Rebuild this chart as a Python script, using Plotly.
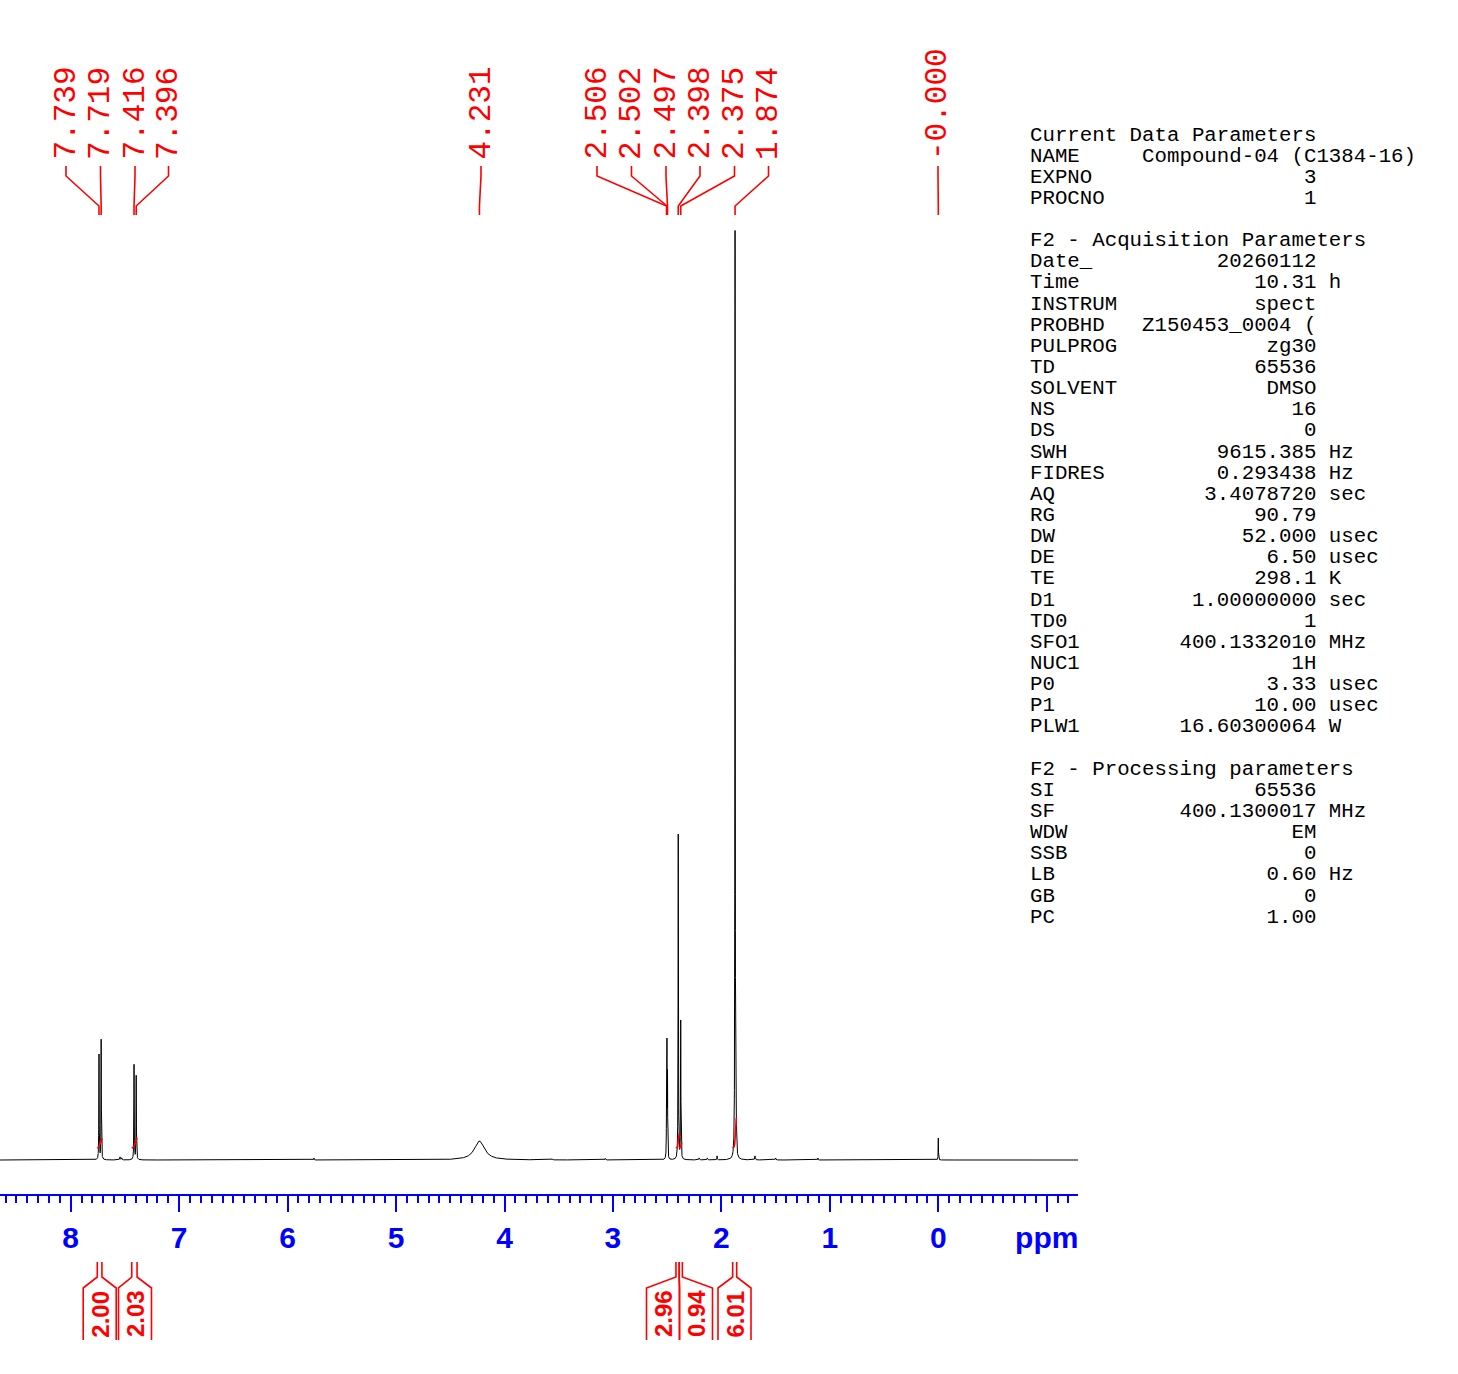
import numpy as np
import plotly.graph_objects as go

# ---------------- data ----------------
peak_ppm = [7.739, 7.719, 7.416, 7.396, 4.231, 2.506, 2.502, 2.497, 2.398, 2.375, 1.874, 1.862, 0.000]
peak_height = [105, 120, 95, 84, 19, 58, 108, 80, 325, 138, 929, 18, 22]
peak_hwhm = [0.0018, 0.0018, 0.0018, 0.0018, 0.055, 0.0015, 0.0015, 0.0015, 0.0018, 0.0018, 0.0018, 0.002, 0.0015]

small_ppm = [7.545, 7.530, 5.757, 3.560, 3.070, 2.205, 2.130, 2.040, 1.690, 1.500, 1.110]
small_height = [3, 2, 2, 1, 1.5, 2, 2, 4, 4, 2, 2]
small_hwhm = [0.003, 0.003, 0.002, 0.003, 0.003, 0.003, 0.003, 0.002, 0.003, 0.003, 0.002]

label_ppm = [7.739, 7.719, 7.416, 7.396, 4.231, 2.506, 2.502, 2.497, 2.398, 2.375, 1.874, 0.000]
label_text = ["7.739", "7.719", "7.416", "7.396", "4.231", "2.506", "2.502", "2.497",
              "2.398", "2.375", "1.874", "-0.000"]

integral_values = [2.00, 2.03, 2.96, 0.94, 6.01]
integral_text = ["2.00", "2.03", "2.96", "0.94", "6.01"]
integral_from = [7.755, 7.437, 2.419, 2.389, 1.896]
integral_to = [7.712, 7.388, 2.389, 2.360, 1.859]

tick_vals = [8, 7, 6, 5, 4, 3, 2, 1, 0, -1]
tick_text = ["8", "7", "6", "5", "4", "3", "2", "1", "0", "ppm"]

params = [
    ("H", "Current Data Parameters"),
    ("P", "NAME", "Compound-04 (C1384-16)", ""),
    ("P", "EXPNO", "3", ""),
    ("P", "PROCNO", "1", ""),
    ("B",),
    ("H", "F2 - Acquisition Parameters"),
    ("P", "Date_", "20260112", ""),
    ("P", "Time", "10.31", "h"),
    ("P", "INSTRUM", "spect", ""),
    ("P", "PROBHD", "Z150453_0004 (", ""),
    ("P", "PULPROG", "zg30", ""),
    ("P", "TD", "65536", ""),
    ("P", "SOLVENT", "DMSO", ""),
    ("P", "NS", "16", ""),
    ("P", "DS", "0", ""),
    ("P", "SWH", "9615.385", "Hz"),
    ("P", "FIDRES", "0.293438", "Hz"),
    ("P", "AQ", "3.4078720", "sec"),
    ("P", "RG", "90.79", ""),
    ("P", "DW", "52.000", "usec"),
    ("P", "DE", "6.50", "usec"),
    ("P", "TE", "298.1", "K"),
    ("P", "D1", "1.00000000", "sec"),
    ("P", "TD0", "1", ""),
    ("P", "SFO1", "400.1332010", "MHz"),
    ("P", "NUC1", "1H", ""),
    ("P", "P0", "3.33", "usec"),
    ("P", "P1", "10.00", "usec"),
    ("P", "PLW1", "16.60300064", "W"),
    ("B",),
    ("H", "F2 - Processing parameters"),
    ("P", "SI", "65536", ""),
    ("P", "SF", "400.1300017", "MHz"),
    ("P", "WDW", "EM", ""),
    ("P", "SSB", "0", ""),
    ("P", "LB", "0.60", "Hz"),
    ("P", "GB", "0", ""),
    ("P", "PC", "1.00", ""),
]

# ---------------- layout constants ----------------
FIG_W, FIG_H = 1458, 1374
PLOT_L, PLOT_R, PLOT_T, PLOT_B = 0, 1078, 225, 1194
PX_PER_PPM = 108.45
PX_ZERO = 938.3
BASELINE_PX = 1160
RED = "#FF0000"
BLUE = "#0000FF"

def xv(px):
    return (PX_ZERO - px) / PX_PER_PPM

def yp(py):
    return (PLOT_B - py) / (PLOT_B - PLOT_T)

X_RANGE = [xv(PLOT_L), xv(PLOT_R)]
Y_RANGE = [-(PLOT_B - BASELINE_PX), BASELINE_PX - PLOT_T]

LABEL_X_PX = [66, 100.5, 135, 168.5, 481, 597, 631.5, 666, 700, 734.5, 768.5, 938]
INTEGRAL_BOX_CENTER_PX = [99.7, 135, 663, 696, 734.5]
INTEGRAL_BOX_HALF = 16.5
INTEGRAL_OFFSET = 12
INTEGRAL_SCALE = 5

# ---------------- spectrum ----------------
all_ppm = peak_ppm + small_ppm
all_h = peak_height + small_height
all_w = peak_hwhm + small_hwhm
grid = np.arange(X_RANGE[1], X_RANGE[0], 0.0005)
grid = np.unique(np.concatenate([grid, np.array(all_ppm)]))[::-1]
spec = np.zeros_like(grid)
for c, h, w in zip(all_ppm, all_h, all_w):
    spec += h * w**2 / ((grid - c) ** 2 + w**2)

fig = go.Figure()
fig.add_trace(go.Scatter(x=grid, y=spec, mode="lines",
                         line=dict(color="black", width=1), hoverinfo="skip",
                         showlegend=False))

# integral curves
for val, a, b in zip(integral_values, integral_from, integral_to):
    m = (grid <= a) & (grid >= b)
    xs = grid[m]
    ys = spec[m]
    cum = np.concatenate([[0], np.cumsum(0.5 * (ys[1:] + ys[:-1]) * np.abs(np.diff(xs)))])
    cum = cum / cum[-1]
    fig.add_trace(go.Scatter(x=xs, y=INTEGRAL_OFFSET + val * INTEGRAL_SCALE * cum,
                             mode="lines", line=dict(color=RED, width=1.6),
                             hoverinfo="skip", showlegend=False))

shapes = []
annotations = []

# peak labels and connectors
for lp, lt, lx in zip(label_ppm, label_text, LABEL_X_PX):
    annotations.append(dict(
        x=xv(lx), y=yp(161), xref="x", yref="paper", text=lt, showarrow=False,
        textangle=-90, xanchor="center", yanchor="bottom", borderpad=0,
        font=dict(family="Liberation Mono", size=31, color=RED)))
    path = (f"M {xv(lx)},{yp(166)} L {xv(lx)},{yp(176)} "
            f"L {lp},{yp(206)} L {lp},{yp(215)}")
    shapes.append(dict(type="path", path=path, xref="x", yref="paper",
                       line=dict(color=RED, width=1.6)))

# integral labels and brackets
for txt, a, b, c in zip(integral_text, integral_from, integral_to, INTEGRAL_BOX_CENTER_PX):
    L = xv(c - INTEGRAL_BOX_HALF)
    R = xv(c + INTEGRAL_BOX_HALF)
    path = (f"M {a},{yp(1262)} L {a},{yp(1277)} L {L},{yp(1288)} L {L},{yp(1340)} "
            f"M {b},{yp(1262)} L {b},{yp(1277)} L {R},{yp(1288)} L {R},{yp(1340)}")
    shapes.append(dict(type="path", path=path, xref="x", yref="paper",
                       line=dict(color=RED, width=1.6)))
    annotations.append(dict(
        x=xv(c), y=yp(1314), xref="x", yref="paper", text=txt, showarrow=False,
        textangle=-90, xanchor="center", yanchor="middle", borderpad=0,
        font=dict(family="Liberation Sans", size=24, color=RED, weight="bold")))

# parameter block
PARAM_X = 1029
PARAM_Y0 = 135
PARAM_DY = 21.14
for i, row in enumerate(params):
    if row[0] == "B":
        continue
    if row[0] == "H":
        line = row[1]
    else:
        line = f"{row[1]:<9}{row[2]:>14}" + (f" {row[3]}" if row[3] else "")
    annotations.append(dict(
        x=PARAM_X / (PLOT_R - PLOT_L), y=yp(PARAM_Y0 + i * PARAM_DY),
        xref="paper", yref="paper", text=line.replace(" ", "\u00a0"),
        showarrow=False, xanchor="left", yanchor="middle", borderpad=0,
        font=dict(family="Liberation Mono", size=20.75, color="black")))

fig.update_layout(
    width=FIG_W, height=FIG_H,
    margin=dict(l=PLOT_L, r=FIG_W - PLOT_R, t=PLOT_T, b=FIG_H - PLOT_B, autoexpand=False),
    paper_bgcolor="white", plot_bgcolor="white",
    shapes=shapes, annotations=annotations, showlegend=False,
    xaxis=dict(range=X_RANGE, tickmode="array", tickvals=tick_vals, ticktext=tick_text,
               ticks="outside", ticklen=16, tickwidth=2, tickcolor=BLUE,
               showline=True, linecolor=BLUE, linewidth=2, showgrid=False, zeroline=False,
               tickfont=dict(family="Liberation Sans", size=30, color=BLUE, weight="bold"),
               minor=dict(dtick=0.1, tick0=0, ticks="outside", ticklen=7, tickwidth=1.5,
                          tickcolor=BLUE, showgrid=False)),
    yaxis=dict(range=Y_RANGE, visible=False, showgrid=False, zeroline=False),
)

fig.write_html("out.html",
               config={"displayModeBar": False},
               post_script="document.body.style.margin='0';document.body.style.overflow='hidden';")
